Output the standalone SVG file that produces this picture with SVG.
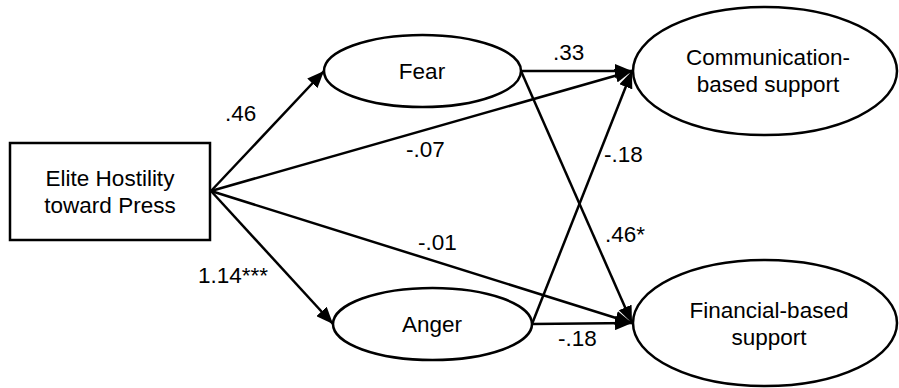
<svg xmlns="http://www.w3.org/2000/svg" width="899" height="388" viewBox="0 0 899 388">
<style>
.n{fill:#fff;stroke:#000;stroke-width:2.5}
.t{font-family:"Liberation Sans",Arial,sans-serif;font-size:22.5px;fill:#000;text-anchor:middle}
.l{font-family:"Liberation Sans",Arial,sans-serif;font-size:22.5px;fill:#000}
.e{fill:none;stroke:#000;stroke-width:2.5}
</style>
<defs>
<marker id="ah" markerUnits="userSpaceOnUse" markerWidth="18" markerHeight="14" refX="17" refY="7" orient="auto">
<path d="M0,0 L17,7 L0,14 Z" fill="#000"/>
</marker>
</defs>
<rect width="899" height="388" fill="#fff"/>
<g id="connectors">
<line class="e" x1="211" y1="191" x2="324" y2="71" marker-end="url(#ah)"/>
<line class="e" x1="211" y1="191" x2="632" y2="71" marker-end="url(#ah)"/>
<line class="e" x1="211" y1="191" x2="632" y2="323" marker-end="url(#ah)"/>
<line class="e" x1="211" y1="191" x2="333" y2="324" marker-end="url(#ah)"/>
<line class="e" x1="521" y1="71" x2="632" y2="71" marker-end="url(#ah)"/>
<line class="e" x1="521" y1="71" x2="632" y2="323" marker-end="url(#ah)"/>
<line class="e" x1="532" y1="324" x2="632" y2="71" marker-end="url(#ah)"/>
<line class="e" x1="532" y1="324" x2="632" y2="323" marker-end="url(#ah)"/>
<text class="l" x="225" y="121">.46</text>
<text class="l" x="406" y="157">-.07</text>
<text class="l" x="418" y="250">-.01</text>
<text class="l" x="198" y="283">1.14***</text>
<text class="l" x="553" y="60">.33</text>
<text class="l" x="605" y="242">.46*</text>
<text class="l" x="604" y="162">-.18</text>
<text class="l" x="558" y="346">-.18</text>
</g>
<g id="elite">
<rect class="n" x="10" y="143" width="200" height="97"/>
<text class="t" x="110" y="186">Elite Hostility</text>
<text class="t" x="110" y="213">toward Press</text>
</g>
<g id="fear">
<ellipse class="n" cx="422.5" cy="71" rx="98.5" ry="36"/>
<text class="t" x="422" y="79">Fear</text>
</g>
<g id="anger">
<ellipse class="n" cx="432.5" cy="324" rx="99.5" ry="36"/>
<text class="t" x="432" y="332">Anger</text>
</g>
<g id="communication">
<ellipse class="n" cx="765" cy="71" rx="132" ry="64"/>
<text class="t" x="768" y="65">Communication-</text>
<text class="t" x="768" y="92">based support</text>
</g>
<g id="financial">
<ellipse class="n" cx="765" cy="323" rx="132" ry="63"/>
<text class="t" x="769" y="318">Financial-based</text>
<text class="t" x="769" y="345">support</text>
</g>
</svg>
